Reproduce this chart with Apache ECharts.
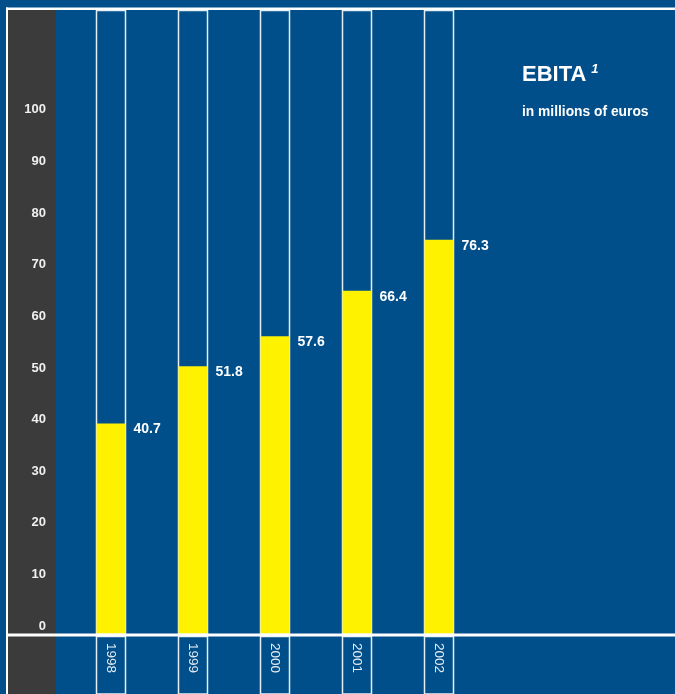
<!DOCTYPE html>
<html><head><meta charset="utf-8">
<script src="https://cdn.jsdelivr.net/npm/echarts@6/dist/echarts.min.js"></script>
<style>html,body{margin:0;padding:0;background:#004f8a}#c{width:675px;height:694px}</style>
</head><body><div id="c"></div>
<script>
const years = ['1998', '1999', '2000', '2001', '2002'];
const ebita = [40.7, 51.8, 57.6, 66.4, 76.3];
const yTickMax = 100;
const yTickStep = 10;
const titleText = 'EBITA';
const titleNote = '1';
const subtitleText = 'in millions of euros';

const BLUE = '#004f8a', GREY = '#3b3b3b', YELLOW = '#fff200', WHITE = '#ffffff';
const FONT = '"Liberation Sans", Arial, sans-serif';

const chart = echarts.init(document.getElementById('c'), null, {renderer: 'canvas'});
chart.setOption({
  backgroundColor: BLUE,
  animation: false,
  title: [
    {
      text: '{a|' + titleText + '} {b|' + titleNote + '}',
      left: 517, top: 58,
      textStyle: {
        rich: {
          a: {fontFamily: FONT, fontSize: 22, fontWeight: 'bold', color: WHITE},
          b: {fontFamily: FONT, fontSize: 13, fontWeight: 'bold', fontStyle: 'italic', color: WHITE, verticalAlign: 'top', padding: [0, 0, 10, 0]}
        }
      }
    },
    {
      text: subtitleText,
      left: 517, top: 100,
      textStyle: {fontFamily: FONT, fontSize: 13.8, fontWeight: 'bold', color: WHITE}
    }
  ],
  graphic: [
    {type: 'rect', z: -1, shape: {x: 8, y: 10, width: 48, height: 684}, style: {fill: GREY}, silent: true},
    {type: 'rect', z: 100, shape: {x: 6, y: 7.5, width: 669, height: 2.5}, style: {fill: WHITE}, silent: true},
    {type: 'rect', z: 100, shape: {x: 6, y: 7.5, width: 2, height: 687}, style: {fill: WHITE}, silent: true},
    {type: 'rect', z: 100, shape: {x: 8, y: 633.5, width: 667, height: 3}, style: {fill: WHITE}, silent: true}
  ],
  grid: [
    {left: 70, width: 410, top: 10.5, height: 623},
    {left: 70, width: 410, top: 636.5, height: 60}
  ],
  xAxis: [
    {
      type: 'category', gridIndex: 0, data: years,
      axisLine: {show: false}, axisTick: {show: false},
      axisLabel: {
        rotate: -90, margin: 9.5, color: '#e6edf4',
        fontFamily: FONT, fontSize: 13.5
      }
    },
    {
      type: 'category', gridIndex: 1, data: years, show: false
    }
  ],
  yAxis: [
    {
      type: 'value', gridIndex: 0, min: 0, max: 120.7, interval: yTickStep,
      splitLine: {show: false}, axisLine: {show: false}, axisTick: {show: false},
      axisLabel: {
        margin: 24, color: '#f0f0f0', fontFamily: FONT, fontSize: 13, fontWeight: 'bold',
        verticalAlign: 'bottom', lineHeight: 15,
        formatter: v => (v <= yTickMax ? String(v) : '')
      }
    },
    {
      type: 'value', gridIndex: 1, min: 0, max: 1, show: false
    }
  ],
  series: [
    {
      type: 'bar', xAxisIndex: 0, yAxisIndex: 0, data: ebita,
      barWidth: 29,
      itemStyle: {color: YELLOW},
      showBackground: true,
      backgroundStyle: {color: 'rgba(0,0,0,0)', borderColor: 'rgba(255,255,255,0.9)', borderWidth: 1.5},
      label: {
        show: true, position: [37, -1], align: 'left', verticalAlign: 'top',
        color: WHITE, fontFamily: FONT, fontSize: 14, fontWeight: 'bold',
        formatter: p => p.value.toFixed(1)
      }
    },
    {
      type: 'bar', xAxisIndex: 1, yAxisIndex: 1, data: ebita,
      barWidth: 29,
      itemStyle: {color: 'rgba(0,0,0,0)'},
      showBackground: true,
      backgroundStyle: {color: 'rgba(0,0,0,0)', borderColor: 'rgba(255,255,255,0.9)', borderWidth: 1.5},
      silent: true
    }
  ]
});
</script>
</body></html>
